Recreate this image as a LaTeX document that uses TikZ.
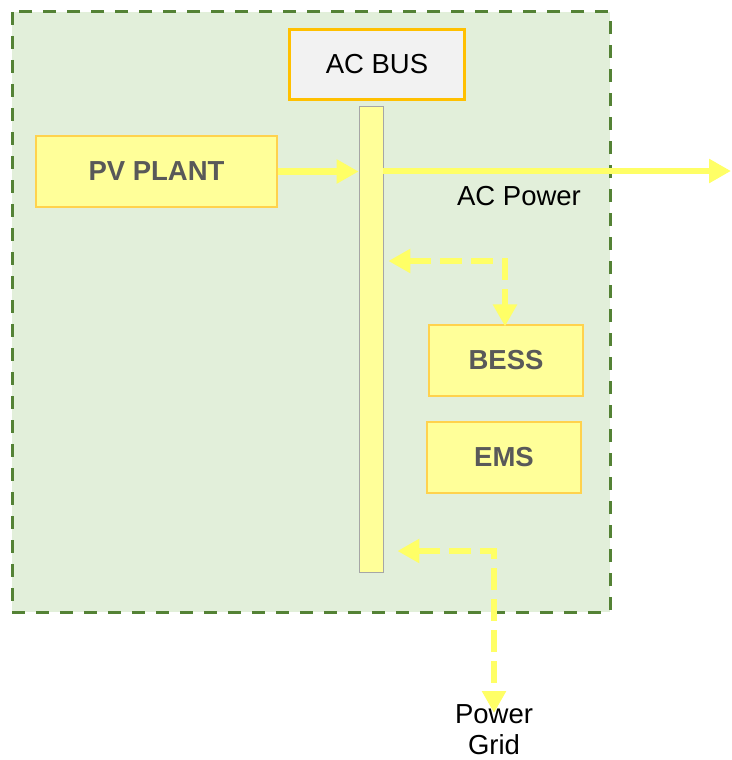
\documentclass[tikz,border=0pt]{standalone}
\usepackage{fontspec}
\setmainfont{Liberation Sans}
\usetikzlibrary{arrows.meta}
\definecolor{zonefill}{HTML}{E2EFDA}
\definecolor{zoneline}{HTML}{548235}
\definecolor{boxfill}{HTML}{FFFF99}
\definecolor{boxline}{HTML}{FFD24D}
\definecolor{busline}{HTML}{A6A6A6}
\definecolor{acfill}{HTML}{F2F2F2}
\definecolor{acline}{HTML}{FFC000}
\definecolor{flow}{HTML}{FFFF66}
\definecolor{txtgray}{HTML}{595959}
\begin{document}
\begin{tikzpicture}[x=1pt,y=-1pt,
  every node/.style={font=\fontsize{27.5}{31}\selectfont},
  unit/.style={draw=boxline,line width=1.2pt,fill=boxfill,inner sep=0pt,
    text=txtgray,font=\fontsize{27.5}{31}\selectfont\bfseries},
  flowline/.style={draw=flow,line width=6.5pt,
    -{Triangle[length=22pt,width=23pt]}},
  flowdash/.style={draw=flow,line width=6.5pt,dash pattern=on 22pt off 9pt,
    {Triangle[length=22pt,width=23pt]}-{Triangle[length=22pt,width=23pt]}}]
\useasboundingbox (0,0) rectangle (731,760);
% zone
\draw[draw=zoneline,fill=zonefill,line width=3pt,dash pattern=on 13pt off 11pt]
  (12,12) rectangle (610,612);
% AC bus header
\node[draw=acline,fill=acfill,line width=3pt,minimum width=175pt,minimum height=70pt,
  inner sep=0pt] (acbus) at (377,64.5) {AC BUS};
% bus bar
\node[draw=busline,line width=0.8pt,fill=boxfill,minimum width=24pt,
  minimum height=466pt,inner sep=0pt] (bus) at (371,339) {};
% units
\node[unit,minimum width=241pt,minimum height=71pt] (pv) at (156.5,171.5) {PV PLANT};
\node[unit,minimum width=154pt,minimum height=71pt] (bess) at (506,360.5) {BESS};
\node[unit,minimum width=154pt,minimum height=71pt] (ems) at (504,457.5) {EMS};
% labels
\node[inner sep=0pt] (acpower) at (519,196) {AC Power};
\node[inner sep=0pt,anchor=north,align=center] (grid) at (494,704)
  {Power\\Grid};
% connectors
\coordinate (acout) at (731,171);
\coordinate (cb) at (505,261);
\coordinate (cg) at (494,551);
\draw[flowline] (pv.east) -- (pv.east -| bus.west);
\draw[flowline] (bus.east |- acout) -- (acout);
\draw[flowdash] ([xshift=5pt]cb -| bus.east) -- (cb) -- ([yshift=-2pt]cb |- bess.north);
\draw[flowdash] ([xshift=14pt]cg -| bus.east) -- (cg) -- ([yshift=-9pt]grid.north);
\end{tikzpicture}
\end{document}
